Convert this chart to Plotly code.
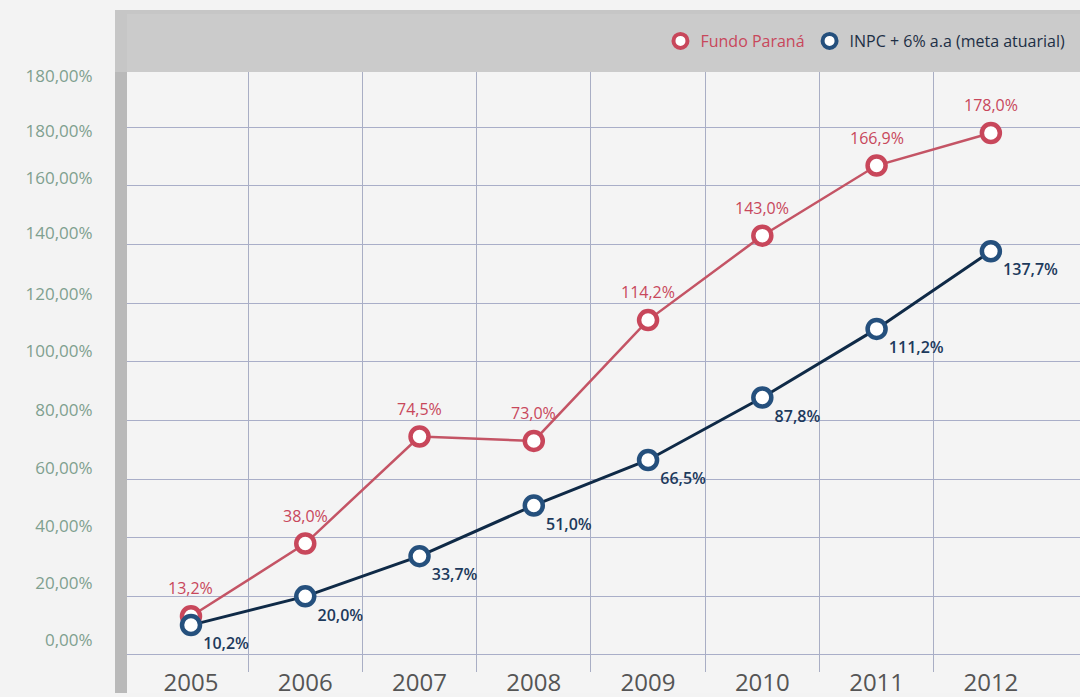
import plotly.graph_objects as go

years = [2005, 2006, 2007, 2008, 2009, 2010, 2011, 2012]
year_labels = ["2005", "2006", "2007", "2008", "2009", "2010", "2011", "2012"]
fundo = [13.2, 38.0, 74.5, 73.0, 114.2, 143.0, 166.9, 178.0]
fundo_text = ["13,2%", "38,0%", "74,5%", "73,0%", "114,2%", "143,0%", "166,9%", "178,0%"]
inpc = [10.2, 20.0, 33.7, 51.0, 66.5, 87.8, 111.2, 137.7]
inpc_text = ["10,2%", "20,0%", "33,7%", "51,0%", "66,5%", "87,8%", "111,2%", "137,7%"]
ytick_text = ["0,00%", "20,00%", "40,00%", "60,00%", "80,00%", "100,00%",
              "120,00%", "140,00%", "160,00%", "180,00%", "180,00%"]
ytick_vals = [5, 24.6, 44, 63.8, 83.6, 103.7, 123, 144, 162.5, 178.8, 197.5]
grid_vals = [0, 20, 40, 60, 80, 100, 120, 140, 160, 180]
grid_x = [2005.5, 2006.5, 2007.5, 2008.5, 2009.5, 2010.5, 2011.5]

RED = "#c8475b"
RED_LINE = "#c45465"
NAVY = "#0f2a47"
BLUE_RING = "#25507d"
FONT = "Open Sans"

W, H = 1080, 697
ML, MR, MT, MB = 127, 0, 72, 25
PW, PH = W - ML - MR, H - MT - MB


def px(x):
    return (x - ML) / PW


def py(y):
    return (H - MB - y) / PH


fig = go.Figure()

fig.add_trace(go.Scatter(
    x=years, y=fundo, mode="lines+markers",
    line=dict(color=RED_LINE, width=2.5),
    marker=dict(symbol="circle", size=18, color="white", line=dict(color=RED, width=4.5)),
    showlegend=False, cliponaxis=False,
))
fig.add_trace(go.Scatter(
    x=years, y=inpc, mode="lines+markers+text", text=inpc_text,
    textposition="bottom right",
    textfont=dict(color="#1d3a5c", size=16, family=FONT, weight=600),
    line=dict(color=NAVY, width=3),
    marker=dict(symbol="circle", size=18, color="white", line=dict(color=BLUE_RING, width=4.5)),
    showlegend=False, cliponaxis=False,
))
# legend entries
fig.add_trace(go.Scatter(
    x=[None], y=[None], mode="markers",
    name="<span style='color:%s'>Fundo Paraná</span>" % RED,
    marker=dict(symbol="circle", size=14, color="white", line=dict(color=RED, width=4)),
))
fig.add_trace(go.Scatter(
    x=[None], y=[None], mode="markers",
    name="<span style='color:#1d2f45'>INPC + 6% a.a (meta atuarial)</span>",
    marker=dict(symbol="circle", size=14, color="white", line=dict(color=BLUE_RING, width=4)),
))

for xv, yv, t in zip(years, fundo, fundo_text):
    fig.add_annotation(x=xv, y=yv, text=t, showarrow=False, yshift=28,
                       font=dict(color=RED, size=16, family=FONT))

shapes = [
    dict(type="rect", xref="paper", yref="paper", layer="below",
         x0=px(115), x1=px(1092), y0=py(693), y1=py(10),
         fillcolor="#c6c6c6", line=dict(width=0)),
    dict(type="rect", xref="paper", yref="paper", layer="below",
         x0=px(115), x1=px(127), y0=py(693), y1=py(72),
         fillcolor="#b9b9b9", line=dict(width=0)),
    dict(type="rect", xref="paper", yref="paper", layer="below",
         x0=px(127), x1=px(1080), y0=py(72), y1=py(14),
         fillcolor="#cbcbcb", line=dict(width=0)),
    dict(type="rect", xref="paper", yref="paper", layer="below",
         x0=px(127), x1=px(1080), y0=py(693), y1=py(72),
         fillcolor="#f4f4f4", line=dict(width=0)),
]

fig.update_layout(
    width=W, height=H,
    margin=dict(l=ML, r=MR, t=MT, b=MB, autoexpand=False),
    paper_bgcolor="#f3f3f3",
    plot_bgcolor="rgba(0,0,0,0)",
    font=dict(family=FONT),
    shapes=shapes,
    legend=dict(orientation="h", x=0.99, xanchor="right", y=py(41), yanchor="middle",
                bgcolor="rgba(0,0,0,0)", font=dict(size=16, family=FONT),
                itemwidth=30, tracegroupgap=0),
    xaxis=dict(
        range=[2004.44, 2012.78], tickvals=years, ticktext=year_labels,
        showgrid=False, zeroline=False, showline=False, automargin=False,
        ticks="outside", ticklen=1, tickcolor="rgba(0,0,0,0)", ticklabelstandoff=-12,
        tickfont=dict(size=24, color="#555555", family=FONT),
        minor=dict(tickvals=grid_x, showgrid=True, gridcolor="#a9aec4", gridwidth=1),
    ),
    yaxis=dict(
        range=[-5.8, 198.8], tickvals=ytick_vals, ticktext=ytick_text,
        showgrid=False, zeroline=False, showline=False, automargin=False,
        ticks="outside", ticklen=30, tickcolor="rgba(0,0,0,0)",
        tickfont=dict(size=17, color="#7fa08f", family=FONT),
        minor=dict(tickvals=grid_vals, showgrid=True, gridcolor="#a9aec8", gridwidth=1.2),
    ),
)

fig.write_html("out.html", config={"displayModeBar": False},
               post_script="document.body.style.margin='0';document.body.style.overflow='hidden';")
